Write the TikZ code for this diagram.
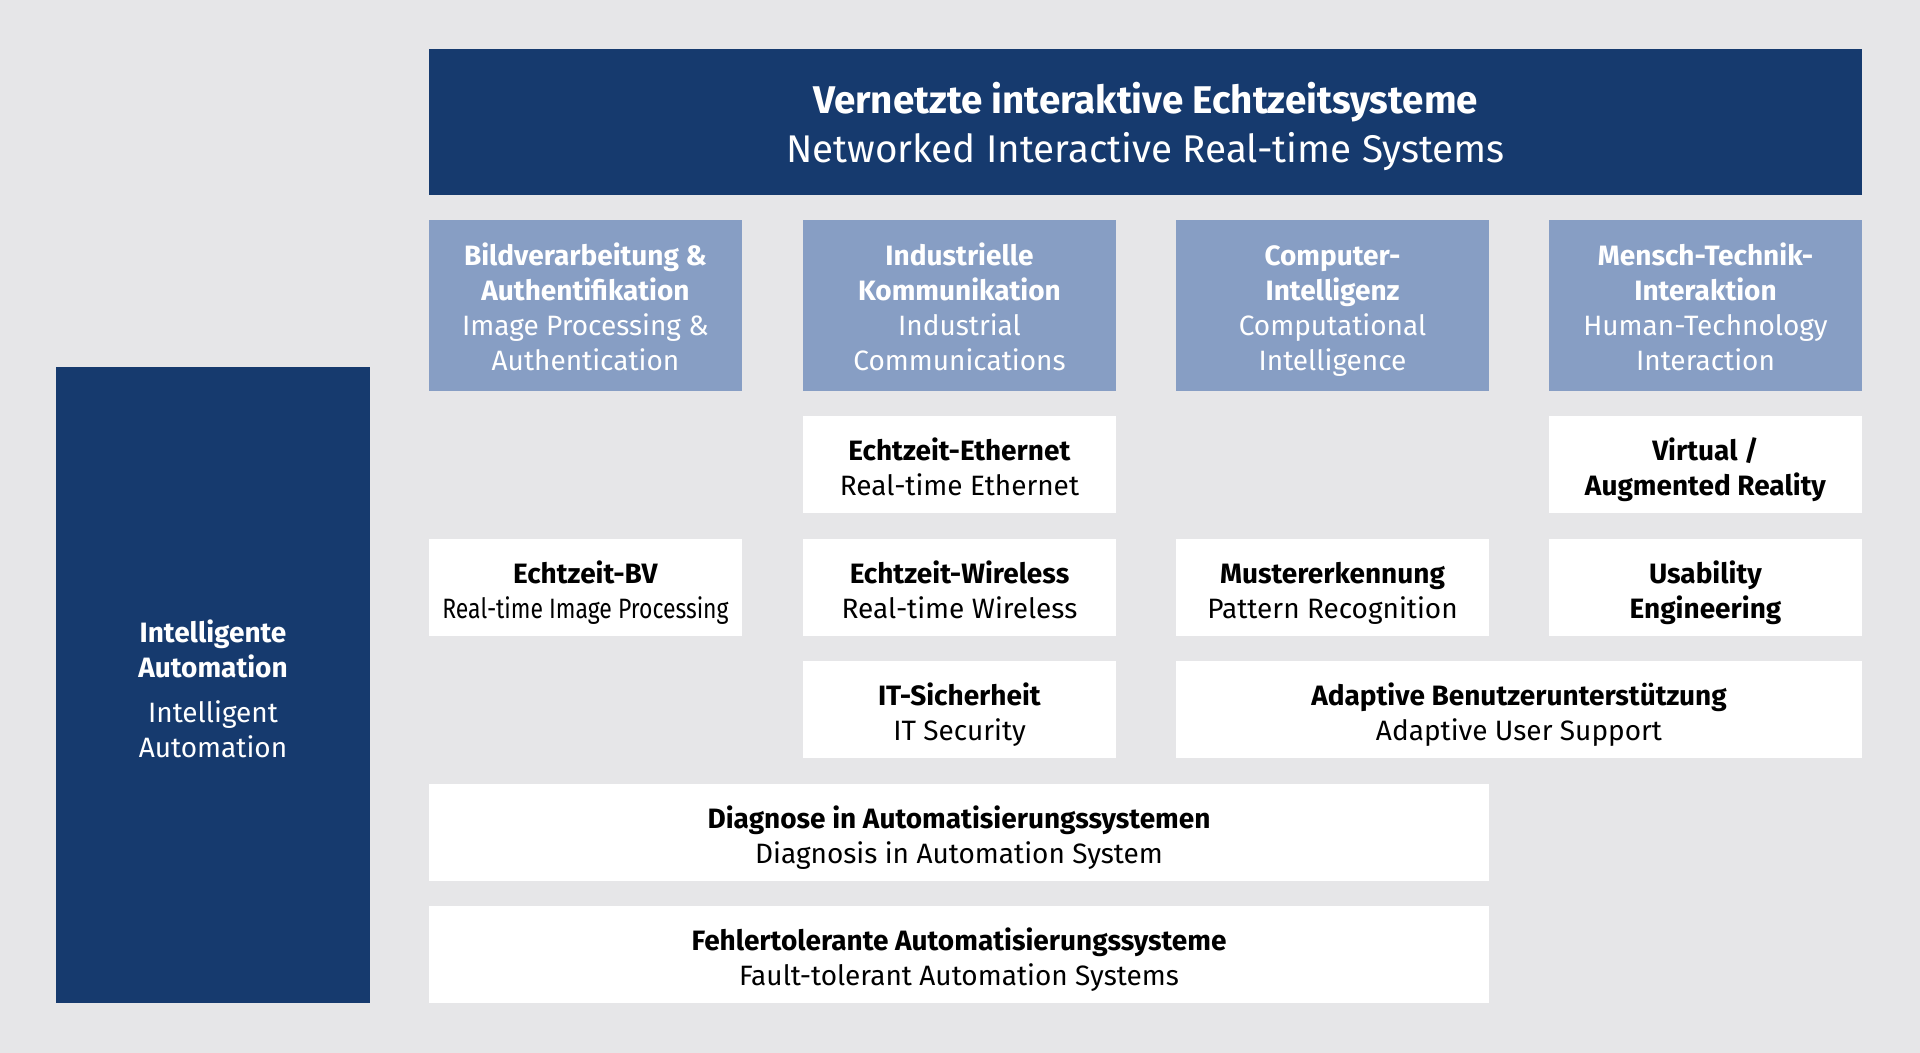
\documentclass[tikz,border=0pt]{standalone}
\usepackage{fontspec}
\usepackage{graphicx}
\setmainfont{Fira Sans}
\definecolor{bgc}{RGB}{230,230,232}
\definecolor{darkb}{RGB}{22,58,110}
\definecolor{lightb}{RGB}{135,158,196}
\newcommand{\Bl}[1]{\strut\textbf{#1}}
\newcommand{\Rl}[1]{\strut #1}
\newcommand{\Top}[1][6pt]{\rule{0pt}{\dimexpr\ht\strutbox+#1\relax}}
\begin{document}
\begin{tikzpicture}[x=0.5pt,y=-0.5pt,
  base/.style={rectangle, inner sep=0pt, align=center, font=\fontsize{14}{17.5}\selectfont},
  darkbox/.style={base, fill=darkb, text=white},
  lightbox/.style={base, fill=lightb, text=white, minimum width=156.5pt, minimum height=85.5pt},
  wbox/.style={base, fill=white, text=black, minimum width=156.5pt, minimum height=48.5pt},
  wide/.style={wbox, minimum width=530pt},
  half/.style={wbox, minimum width=343pt}]
\fill[bgc] (0,0) rectangle (1920,1053);
\useasboundingbox (0,0) rectangle (1920,1053);
% top bar
\node[darkbox, minimum width=716.5pt, minimum height=73pt, font=\fontsize{19.3}{24.5}\selectfont] (top) at (1145.5,122)
  {\Top\Bl{Vernetzte interaktive Echtzeitsysteme}\\\Rl{Networked Interactive Real-time Systems}};
% left
\node[darkbox, minimum width=157pt, minimum height=318pt] (left) at (213,685)
  {\Top[8pt]\Bl{Intelligente}\\\Bl{Automation}\\[5pt]\Rl{Intelligent}\\\Rl{Automation}};
% light blue headers
\node[lightbox] (h1) at (585.5,305.5) {\Top\Bl{Bildverarbeitung \&}\\\Bl{Authentifikation}\\\Rl{Image Processing \&}\\\Rl{Authentication}};
\node[lightbox] (h2) at (959.5,305.5) {\Top\Bl{Industrielle}\\\Bl{Kommunikation}\\\Rl{Industrial}\\\Rl{Communications}};
\node[lightbox] (h3) at (1332.5,305.5) {\Top\Bl{Computer-}\\\Bl{Intelligenz}\\\Rl{Computational}\\\Rl{Intelligence}};
\node[lightbox] (h4) at (1705.5,305.5) {\Top\Bl{Mensch-Technik-}\\\Bl{Interaktion}\\\Rl{Human-Technology}\\\Rl{Interaction}};
% row 1
\node[wbox] (eth) at (959.5,464.5) {\Top\Bl{Echtzeit-Ethernet}\\\Rl{Real-time Ethernet}};
\node[wbox] (vr) at (1705.5,464.5) {\Top\Bl{Virtual /}\\\Bl{Augmented Reality}};
% row 2
\node[wbox] (bv) at (585.5,587.5) {\Top\Bl{Echtzeit-BV}\\\Rl{\scalebox{0.82}[1]{Real-time Image Processing}}};
\node[wbox] (wl) at (959.5,587.5) {\Top\Bl{Echtzeit-Wireless}\\\Rl{Real-time Wireless}};
\node[wbox] (mu) at (1332.5,587.5) {\Top\Bl{Mustererkennung}\\\Rl{Pattern Recognition}};
\node[wbox] (us) at (1705.5,587.5) {\Top\Bl{Usability}\\\Bl{Engineering}};
% row 3
\node[wbox] (it) at (959.5,709.5) {\Top\Bl{IT-Sicherheit}\\\Rl{IT Security}};
\node[half] (ad) at (1519,709.5) {\Top\Bl{Adaptive Benutzerunterstützung}\\\Rl{Adaptive User Support}};
% row 4, 5
\node[wide] (dia) at (959,832.5) {\Top\Bl{Diagnose in Automatisierungssystemen}\\\Rl{Diagnosis in Automation System}};
\node[wide] (fe) at (959,954.5) {\Top\Bl{Fehlertolerante Automatisierungssysteme}\\\Rl{Fault-tolerant Automation Systems}};
\end{tikzpicture}
\end{document}
